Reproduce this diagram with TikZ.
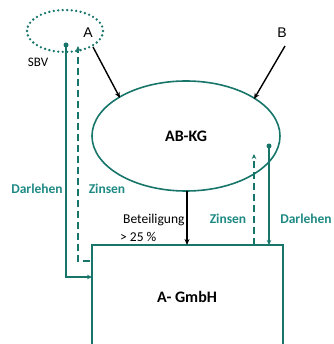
\documentclass[tikz,border=0pt]{standalone}
\usepackage{fontspec}
\setmainfont{Carlito}
\newfontfamily\arialfont{Liberation Sans}
\usetikzlibrary{arrows.meta,shapes.geometric}
\definecolor{tealline}{HTML}{17756A}
\definecolor{tealtext}{HTML}{1F8A84}
\begin{document}
\begin{tikzpicture}[x=1pt,y=-1pt,
  lbl/.style={font=\fontsize{13.5}{15}\selectfont\bfseries, text=tealtext, inner sep=0pt},
  blk/.style={font=\fontsize{13.5}{15}\selectfont, inner sep=0pt},
  tarrow/.style={tealline, line width=1.4pt, -{Stealth[length=5pt,width=4.5pt]}},
  barrow/.style={black, line width=1.4pt, -{Stealth[length=6pt,width=5pt]}},
  dot/.style={circle, fill=tealline, inner sep=0pt, minimum size=5pt}]
\useasboundingbox (0,0) rectangle (333,344);
% dotted ellipse SBV
\draw[tealline, line width=2.6pt, dash pattern=on 0pt off 4.5pt, line cap=round] (65,31) ellipse [x radius=38, y radius=21];
\node[inner sep=0pt, font=\arialfont\fontsize{14}{16}\selectfont] (A) at (88,33) {A};
\node[blk, font=\fontsize{13}{15}\selectfont] (sbv) at (38,62) {SBV};
\node[inner sep=0pt, font=\arialfont\fontsize{14}{16}\selectfont] (B) at (282,33) {B};
% KG ellipse
\node[draw=tealline, line width=1.6pt, ellipse, minimum width=188, minimum height=110, inner sep=0pt,
  font=\fontsize{16}{18}\selectfont\bfseries] (kg) at (186,136) {AB-KG};
% GmbH box (open at bottom)
\coordinate (bl) at (92,350);
\coordinate (tl) at (92,245);
\coordinate (tr) at (283,245);
\coordinate (br) at (283,350);
\draw[tealline, line width=1.6pt] (bl) -- (tl) -- (tr) -- (br);
\node[font=\fontsize{16}{18}\selectfont\bfseries, inner sep=0pt] (gmbh) at (187,297) {A- GmbH};
% black arrows
\coordinate (a1) at (93,47);
\coordinate (a2) at (120,98);
\draw[barrow] (a1) -- (a2);
\coordinate (b1) at (285,46);
\coordinate (b2) at (254,99);
\draw[barrow] (b1) -- (b2);
\coordinate (p1) at (187,191);
\coordinate (p2) at (187,245);
\draw[barrow] (p1) -- (p2);
\node[blk, anchor=west] (bet) at (123,220) {Beteiligung};
\node[blk, anchor=west] (pct) at (120,237) {> 25 \%};
% left Darlehen (solid)
\node[dot] (d1) at (66,45) {};
\coordinate (d2) at (66,277);
\coordinate (d3) at (92,277);
\draw[tarrow] (d1.center) -- (d2) -- (d3);
% left Zinsen (dashed)
\coordinate (z1) at (90,261);
\coordinate (z2) at (78,261);
\coordinate (z3) at (78,46);
\draw[tarrow, dash pattern=on 7pt off 4pt] (z1) -- (z2) -- (z3);
\node[lbl] (ldar) at (37,189) {Darlehen};
\node[lbl] (lzin) at (107,189) {Zinsen};
% right Zinsen (dashed)
\coordinate (rz1) at (254,245);
\coordinate (rz2) at (254,154);
\draw[tarrow, dash pattern=on 7pt off 4pt] (rz1) -- (rz2);
% right Darlehen (solid)
\node[dot] (rd1) at (269,146) {};
\coordinate (rd2) at (269,245);
\draw[tarrow] (rd1.center) -- (rd2);
\node[lbl] (rzin) at (228,219) {Zinsen};
\node[lbl] (rdar) at (306,219) {Darlehen};
\end{tikzpicture}
\end{document}
